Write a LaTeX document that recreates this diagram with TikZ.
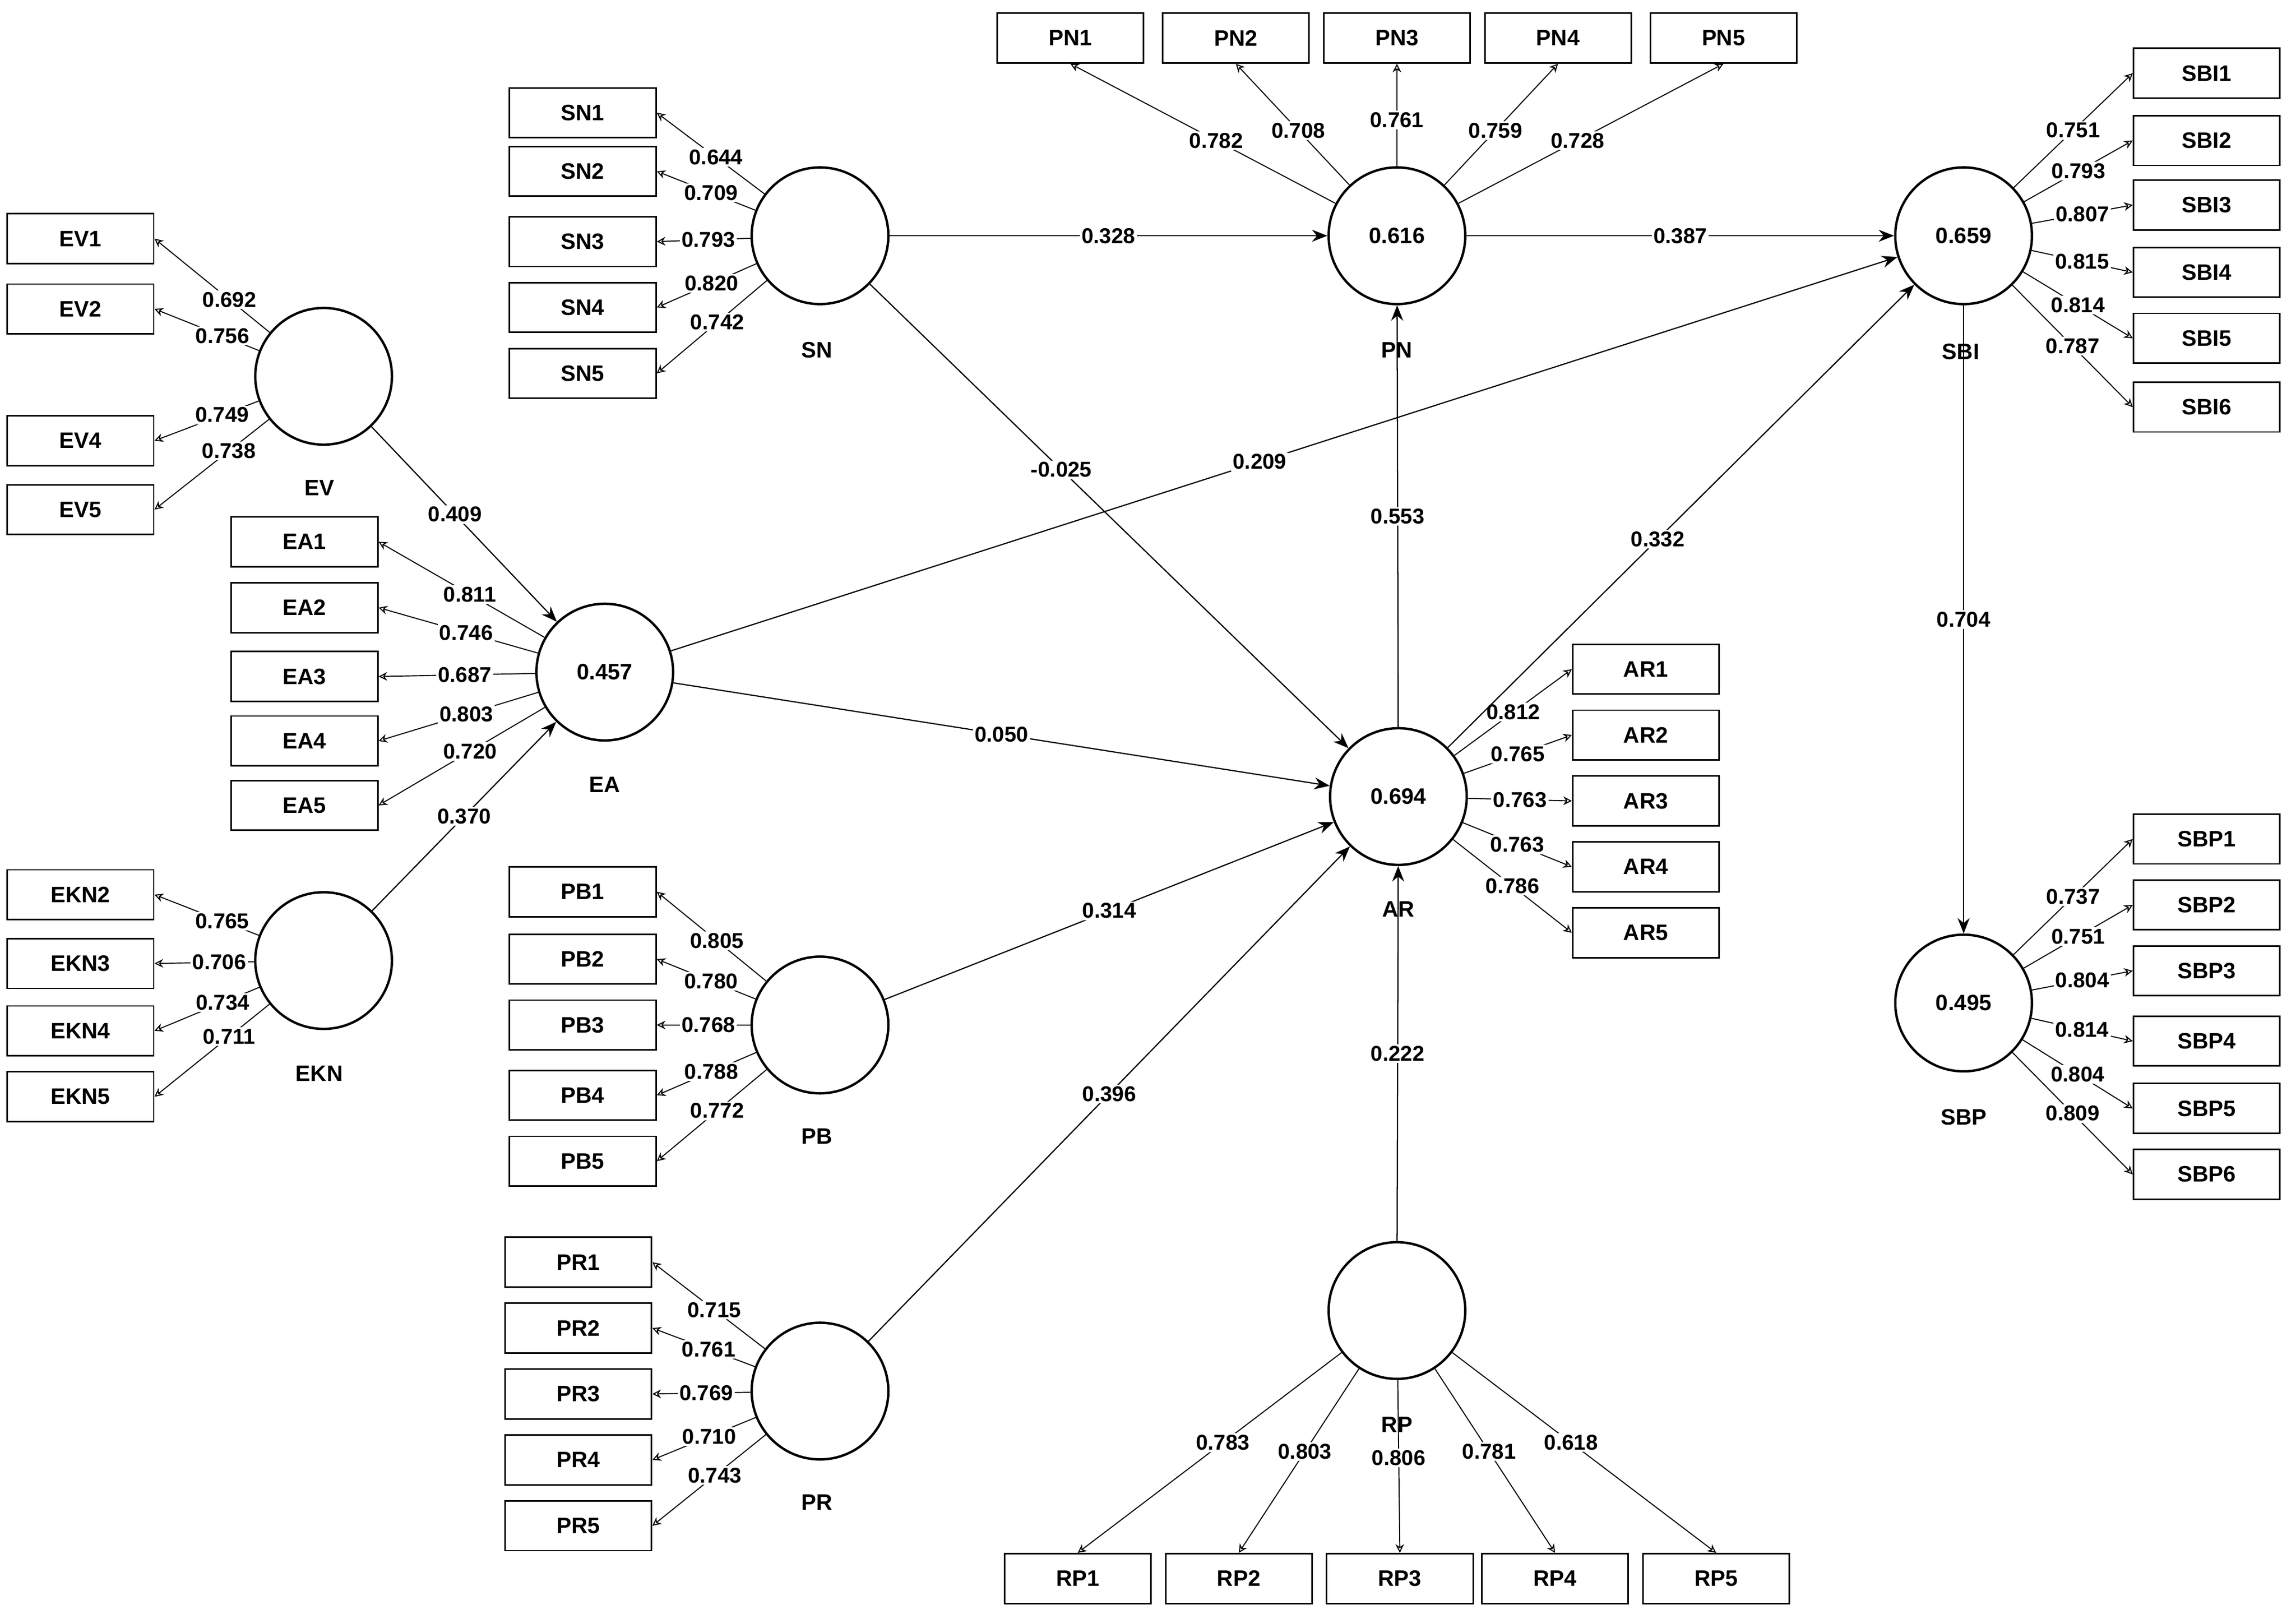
\documentclass[tikz,border=0pt]{standalone}
\usepackage{fontspec}
\setmainfont{Liberation Sans}
\usetikzlibrary{arrows.meta}

\tikzset{
  lv/.style={circle,draw,line width=1.4pt,minimum size=2.8cm,inner sep=0pt,font=\fontsize{13}{15}\selectfont\bfseries},
  ind/.style={draw,line width=0.9pt,minimum width=3cm,minimum height=1.02cm,inner sep=0pt,font=\fontsize{13}{15}\selectfont\bfseries},
  tag/.style={font=\fontsize{13}{15}\selectfont\bfseries},
  lab/.style={fill=white,inner sep=1pt,font=\fontsize{12.5}{14}\selectfont\bfseries},
  load/.style={-{Stealth[length=5pt,width=5pt,open]},line width=0.6pt},
  path/.style={-{Stealth[length=9pt,width=7pt]},line width=0.7pt}
}

\begin{document}
\begin{tikzpicture}[x=0.03cm,y=-0.03cm]
\useasboundingbox (0,0) rectangle (1568,1102);

% latent variables
\node[lv] (EV) at (221,257) {};
\node[lv] (EA) at (413,459) {0.457};
\node[lv] (EKN) at (221,656) {};
\node[lv] (SN) at (560,161) {};
\node[lv] (PN) at (954,161) {0.616};
\node[lv] (SBI) at (1341,161) {0.659};
\node[lv] (AR) at (955,544) {0.694};
\node[lv] (PB) at (560,700) {};
\node[lv] (PR) at (560,950) {};
\node[lv] (RP) at (954,895) {};
\node[lv] (SBP) at (1341,685) {0.495};

\foreach \c/\dx/\dy in {EV/-3/76,EA/0/77,EKN/-3/77,SN/-2/78,PN/0/78,SBI/-2/79,AR/0/77,PB/-2/76,PR/-2/76,RP/0/78,SBP/0/78}
  \node[tag] at ([shift={(\dx,\dy)}]\c) {\c};

% indicators, left side
\foreach \n/\y/\v in {EV1/163/0.692,EV2/211/0.756,EV4/301/0.749,EV5/348/0.738}{
  \node[ind] (\n) at (55,\y) {\n};
  \draw[load] (EV) -- (\n.east) node[lab,pos=.35] {\v};}
\foreach \n/\y/\v in {EKN2/611/0.765,EKN3/658/0.706,EKN4/704/0.734,EKN5/749/0.711}{
  \node[ind] (\n) at (55,\y) {\n};
  \draw[load] (EKN) -- (\n.east) node[lab,pos=.35] {\v};}
\foreach \n/\y/\v in {EA1/370/0.811,EA2/415/0.746,EA3/462/0.687,EA4/506/0.803,EA5/550/0.720}{
  \node[ind] (\n) at (208,\y) {\n};
  \draw[load] (EA) -- (\n.east) node[lab,pos=.45] {\v};}
\foreach \n/\y/\v in {SN1/77/0.644,SN2/117/0.709,SN3/165/0.793,SN4/210/0.820,SN5/255/0.742}{
  \node[ind] (\n) at (398,\y) {\n};
  \draw[load] (SN) -- (\n.east) node[lab,pos=.45] {\v};}
\foreach \n/\y/\v in {PB1/609/0.805,PB2/655/0.780,PB3/700/0.768,PB4/748/0.788,PB5/793/0.772}{
  \node[ind] (\n) at (398,\y) {\n};
  \draw[load] (PB) -- (\n.east) node[lab,pos=.45] {\v};}
\foreach \n/\y/\v in {PR1/862/0.715,PR2/907/0.761,PR3/952/0.769,PR4/997/0.710,PR5/1042/0.743}{
  \node[ind] (\n) at (395,\y) {\n};
  \draw[load] (PR) -- (\n.east) node[lab,pos=.45] {\v};}

% indicators, right side
\foreach \n/\y/\v in {SBI1/50/0.751,SBI2/96/0.793,SBI3/140/0.807,SBI4/186/0.815,SBI5/231/0.814,SBI6/278/0.787}{
  \node[ind] (\n) at (1507,\y) {\n};
  \draw[load] (SBI) -- (\n.west) node[lab,pos=.5] {\v};}
\foreach \n/\y/\v in {AR1/457/0.812,AR2/502/0.765,AR3/547/0.763,AR4/592/0.763,AR5/637/0.786}{
  \node[ind] (\n) at (1124,\y) {\n};
  \draw[load] (AR) -- (\n.west) node[lab,pos=.5] {\v};}
\foreach \n/\y/\v in {SBP1/573/0.737,SBP2/618/0.751,SBP3/663/0.804,SBP4/711/0.814,SBP5/757/0.804,SBP6/802/0.809}{
  \node[ind] (\n) at (1507,\y) {\n};
  \draw[load] (SBP) -- (\n.west) node[lab,pos=.5] {\v};}

% indicators, top and bottom
\foreach \n/\x/\v in {PN1/731/0.782,PN2/844/0.708,PN3/954/0.761,PN4/1064/0.759,PN5/1177/0.728}{
  \node[ind] (\n) at (\x,26) {\n};
  \draw[load] (PN) -- (\n.south) node[lab,pos=.45] {\v};}
\foreach \n/\x/\v in {RP1/736/0.783,RP2/846/0.803,RP3/956/0.806,RP4/1062/0.781,RP5/1172/0.618}{
  \node[ind] (\n) at (\x,1078) {\n};
  \draw[load] (RP) -- (\n.north) node[lab,pos=.45] {\v};}

% structural paths
\draw[path] (SN) -- (PN) node[lab,pos=.5] {0.328};
\draw[path] (PN) -- (SBI) node[lab,pos=.5] {0.387};
\draw[path] (EV) -- (EA) node[lab,pos=.45] {0.409};
\draw[path] (EKN) -- (EA) node[lab,pos=.5] {0.370};
\draw[path] (EA) -- (SBI) node[lab,pos=.48] {0.209};
\draw[path] (EA) -- (AR) node[lab,pos=.5] {0.050};
\draw[path] (SN) -- (AR) node[lab,pos=.4] {-0.025};
\draw[path] (AR) -- (PN) node[lab,pos=.5] {0.553};
\draw[path] (AR) -- (SBI) node[lab,pos=.45] {0.332};
\draw[path] (PB) -- (AR) node[lab,pos=.5] {0.314};
\draw[path] (PR) -- (AR) node[lab,pos=.5] {0.396};
\draw[path] (RP) -- (AR) node[lab,pos=.5] {0.222};
\draw[path] (SBI) -- (SBP) node[lab,pos=.5] {0.704};
\end{tikzpicture}
\end{document}
